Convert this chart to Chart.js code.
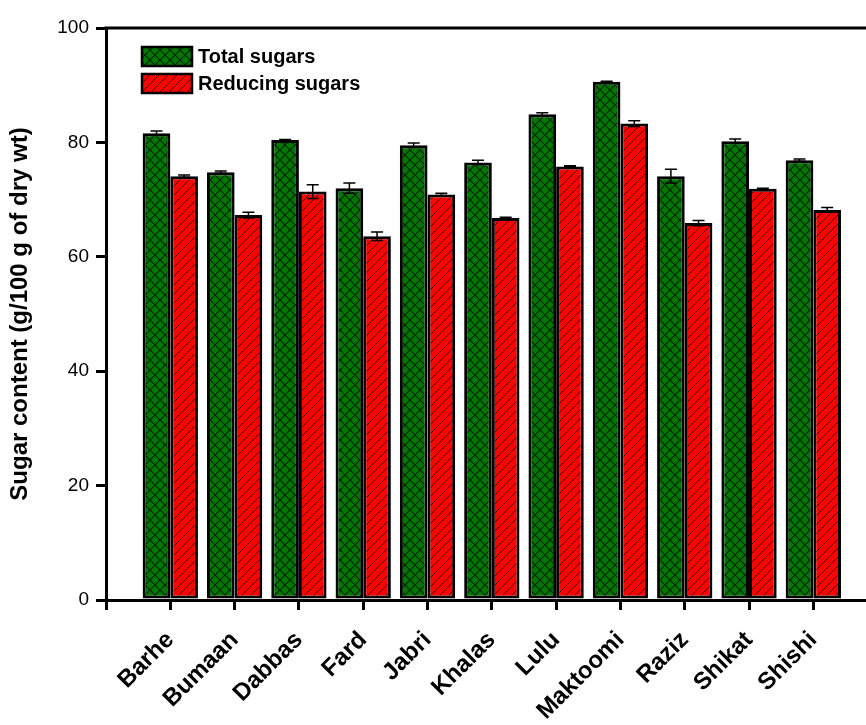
<!DOCTYPE html>
<html>
<head>
<meta charset="utf-8">
<script src="https://cdn.jsdelivr.net/npm/chart.js@4/dist/chart.umd.min.js"></script>
<style>
  html,body{margin:0;padding:0;background:#fff;overflow:hidden;}
  #wrap{width:866px;height:725px;overflow:hidden;}
</style>
</head>
<body>
<div id="wrap"><canvas id="c" width="914" height="725"></canvas></div>
<script>
const cultivars = ['Barhe','Bumaan','Dabbas','Fard','Jabri','Khalas','Lulu','Maktoomi','Raziz','Shikat','Shishi'];
const totalSugars = [81.6, 74.8, 80.4, 72.0, 79.5, 76.5, 84.9, 90.6, 74.1, 80.2, 76.9];
const totalErr    = [0.4, 0.2, 0.1, 0.9, 0.4, 0.4, 0.3, 0.1, 1.2, 0.4, 0.2];
const reducingSugars = [74.1, 67.3, 71.4, 63.6, 70.9, 66.8, 75.8, 83.3, 65.9, 71.9, 68.2];
const reducingErr    = [0.2, 0.5, 1.2, 0.75, 0.2, 0.1, 0.1, 0.5, 0.45, 0.1, 0.4];
const yTicks = [0, 20, 40, 60, 80, 100];

const FONT = '"Liberation Sans", Arial, sans-serif';

function hatch(bg, size, draw){
  const c = document.createElement('canvas');
  c.width = size; c.height = size;
  const g = c.getContext('2d');
  g.fillStyle = bg; g.fillRect(0,0,size,size);
  draw(g, size);
  return document.getElementById('c').getContext('2d').createPattern(c,'repeat');
}
const greenPat = hatch('#007800', 10, (g,s)=>{
  g.strokeStyle = 'rgba(0,0,0,0.7)'; g.lineWidth = 1.1;
  g.beginPath();
  g.moveTo(0,0); g.lineTo(s,s);
  g.moveTo(s,0); g.lineTo(0,s);
  g.stroke();
});
const redPat = hatch('#ff0000', 9, (g,s)=>{
  g.strokeStyle = 'rgba(0,0,0,0.75)'; g.lineWidth = 0.9;
  g.beginPath();
  g.moveTo(0,s); g.lineTo(s,0);
  g.moveTo(-1,1); g.lineTo(1,-1);
  g.moveTo(s-1,s+1); g.lineTo(s+1,s-1);
  g.stroke();
});

// pad with an empty slot on each side so the axis runs from index -1 to 11
const pad = a => [null, ...a, null];

const errorBars = {
  id:'errorBars',
  afterDatasetsDraw(chart){
    const ctx = chart.ctx, y = chart.scales.y;
    const errs = [totalErr, reducingErr];
    ctx.save();
    ctx.strokeStyle = '#000'; ctx.lineWidth = 1.5;
    chart.data.datasets.forEach((ds,i)=>{
      const meta = chart.getDatasetMeta(i);
      meta.data.forEach((el,j)=>{
        const v = ds.data[j];
        if(v == null) return;
        const e = errs[i][j-1];
        const top = y.getPixelForValue(v+e), bot = y.getPixelForValue(v-e);
        ctx.beginPath();
        ctx.moveTo(el.x, top); ctx.lineTo(el.x, bot);
        ctx.moveTo(el.x-6, top); ctx.lineTo(el.x+6, top);
        ctx.moveTo(el.x-6, bot); ctx.lineTo(el.x+6, bot);
        ctx.stroke();
      });
    });
    ctx.restore();
  }
};

const frameAndLegend = {
  id:'frameAndLegend',
  afterDraw(chart){
    const ctx = chart.ctx, a = chart.chartArea;
    ctx.save();
    ctx.strokeStyle = '#000'; ctx.lineWidth = 3;
    ctx.beginPath(); ctx.moveTo(a.left-1.5, a.top); ctx.lineTo(a.right+2, a.top); ctx.stroke();
    const items = [['Total sugars', greenPat], ['Reducing sugars', redPat]];
    items.forEach(([txt,pat],i)=>{
      const x = 142, yy = 47 + i*27;
      ctx.fillStyle = pat; ctx.fillRect(x, yy, 50, 19);
      ctx.lineWidth = 2.5; ctx.strokeRect(x, yy, 50, 19);
      ctx.fillStyle = '#000';
      ctx.font = 'bold 20px ' + FONT;
      ctx.textBaseline = 'middle';
      ctx.fillText(txt, 198, yy + 10);
    });
    ctx.restore();
  }
};

new Chart(document.getElementById('c'), {
  type:'bar',
  data:{
    labels: ['', ...cultivars, ''],
    datasets:[
      { label:'Total sugars', data: pad(totalSugars), backgroundColor: greenPat,
        borderColor:'#000', borderWidth:3, borderSkipped:false },
      { label:'Reducing sugars', data: pad(reducingSugars), backgroundColor: redPat,
        borderColor:'#000', borderWidth:3, borderSkipped:false }
    ]
  },
  options:{
    responsive:false,
    animation:false,
    layout:{ padding:{ top:28, right:0, left:0, bottom:0 } },
    datasets:{ bar:{ categoryPercentage:0.86, barPercentage:1.0 } },
    plugins:{ legend:{ display:false }, tooltip:{ enabled:false } },
    scales:{
      x:{
        offset:false,
        grid:{ offset:false, drawOnChartArea:false, drawTicks:true, tickLength:10, color:'#000', lineWidth:3 },
        border:{ display:true, color:'#000', width:3 },
        ticks:{ color:'#000', font:{ family:FONT, size:24, weight:'bold' }, minRotation:45, maxRotation:45, autoSkip:false, padding:16 },
        afterFit(s){ s.height = 125; }
      },
      y:{
        min:0, max:100,
        afterBuildTicks(s){ s.ticks = yTicks.map(v=>({value:v})); },
        grid:{ drawOnChartArea:false, drawTicks:true, tickLength:10, color:'#000', lineWidth:3 },
        border:{ display:true, color:'#000', width:3 },
        ticks:{ color:'#000', font:{ family:FONT, size:19 }, padding:7 },
        title:{ display:true, text:'Sugar content (g/100 g of dry wt)', color:'#000',
                font:{ family:FONT, size:24, weight:'bold' }, padding:{ top:6, bottom:0 } },
        afterFit(s){ s.width = 106; }
      }
    }
  },
  plugins:[errorBars, frameAndLegend]
});
</script>
</body>
</html>
